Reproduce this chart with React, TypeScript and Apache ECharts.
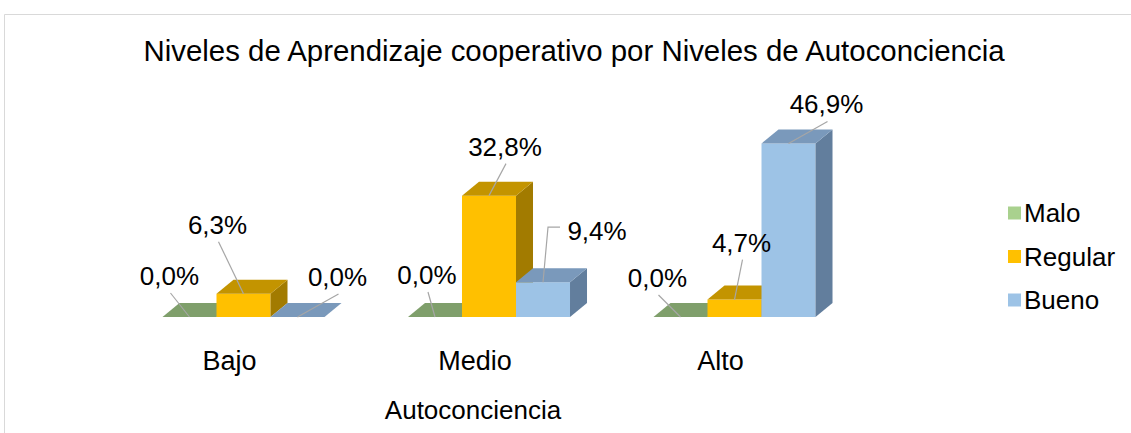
import React, { useEffect, useRef } from "react";
import * as echarts from "echarts";

const TITLE = "Niveles de Aprendizaje cooperativo por Niveles de Autoconciencia";
const AXIS_NAME = "Autoconciencia";
const CATEGORIES = ["Bajo", "Medio", "Alto"];
const SERIES_NAMES = ["Malo", "Regular", "Bueno"];
const MALO = [0.0, 0.0, 0.0];
const REGULAR = [6.3, 32.8, 4.7];
const BUENO = [0.0, 9.4, 46.9];
const SERIES_VALUES = [MALO, REGULAR, BUENO];

// styling
const FRONT = ["#A9D18E", "#FFC000", "#9DC3E6"];
const TOP = ["#7F9F6B", "#C39400", "#7A99BB"];
const SIDE = ["#6B8859", "#A27B00", "#627E9D"];
const FONT = "'Liberation Sans', Arial, sans-serif";
const TEXT_COLOR = "#000000";
const DEPTH_X = 17;
const DEPTH_Y = 14;
const BAR_RATIO = 0.22;
// label offsets [dx, dy] of the label centre from the bar's front-top centre
const LABEL_OFFSETS = [
  [[-20, -41], [-8, -42], [-23, -39]],
  [[-26, -69], [16, -49], [7, -57]],
  [[40, -40], [54, -51], [38, -39]],
];
const LABEL_ELBOW = [
  [false, false, false],
  [false, false, false],
  [false, true, false],
];

const fmt = (v: number) => v.toFixed(1).replace(".", ",") + "%";

function geom(s: number, api: any) {
  const ci = api.value(0);
  const v = api.value(1);
  const base = api.coord([ci, 0]);
  const top = api.coord([ci, v]);
  const band = api.size([1, 0])[0];
  const bw = band * BAR_RATIO;
  const x0 = base[0] - 1.5 * bw + s * bw;
  return { v, x0, x1: x0 + bw, bw, yb: base[1], yt: top[1], cx: x0 + bw / 2 };
}

export default function App() {
  const ref = useRef<HTMLDivElement>(null);
  useEffect(() => {
    if (!ref.current) return;
    const chart = echarts.init(ref.current, null, { renderer: "svg" });

    const barSeries = SERIES_VALUES.map((vals, s) => ({
      type: "custom",
      name: SERIES_NAMES[s],
      itemStyle: { color: FRONT[s] },
      clip: false,
      z: 2,
      encode: { x: 0, y: 1 },
      data: vals.map((v, i) => [i, v]),
      renderItem: (params: any, api: any) => {
        const { x0, x1, bw, yb, yt } = geom(s, api);
        const children: any[] = [];
        if (yb - yt > 0.5) {
          children.push({
            type: "rect",
            shape: { x: x0, y: yt, width: bw, height: yb - yt },
            style: { fill: FRONT[s] },
          });
          children.push({
            type: "polygon",
            shape: {
              points: [
                [x1, yt],
                [x1 + DEPTH_X, yt - DEPTH_Y],
                [x1 + DEPTH_X, yb - DEPTH_Y],
                [x1, yb],
              ],
            },
            style: { fill: SIDE[s] },
          });
        }
        children.push({
          type: "polygon",
          shape: {
            points: [
              [x0, yt],
              [x1, yt],
              [x1 + DEPTH_X, yt - DEPTH_Y],
              [x0 + DEPTH_X, yt - DEPTH_Y],
            ],
          },
          style: { fill: TOP[s] },
        });
        return { type: "group", children };
      },
    }));

    const labelSeries = SERIES_VALUES.map((vals, s) => ({
      type: "custom",
      name: SERIES_NAMES[s],
      itemStyle: { color: FRONT[s] },
      clip: false,
      z: 5,
      encode: { x: 0, y: 1 },
      data: vals.map((v, i) => [i, v]),
      renderItem: (params: any, api: any) => {
        const { v, yt, cx } = geom(s, api);
        const children: any[] = [];
        const off = LABEL_OFFSETS[s][params.dataIndex];
        const tx = cx + off[0];
        const ty = yt + off[1];
        if (LABEL_ELBOW[s][params.dataIndex]) {
          children.push({
            type: "polyline",
            shape: {
              points: [
                [cx, yt],
                [tx - 49, ty - 4],
                [tx - 37, ty - 4],
              ],
            },
            style: { stroke: "#A6A6A6", lineWidth: 1.2, fill: null },
          });
        } else {
          children.push({
            type: "line",
            shape: { x1: cx, y1: yt, x2: tx + 1, y2: ty + 17 },
            style: { stroke: "#A6A6A6", lineWidth: 1.2 },
          });
        }
        children.push({
          type: "text",
          x: tx,
          y: ty,
          style: {
            text: fmt(v),
            fill: TEXT_COLOR,
            font: `26px ${FONT}`,
            align: "center",
            verticalAlign: "middle",
          },
        });
        return { type: "group", children };
      },
    }));

    chart.setOption({
      animation: false,
      backgroundColor: "#ffffff",
      title: {
        text: TITLE,
        left: 569,
        textAlign: "center",
        top: 31,
        textStyle: {
          fontFamily: FONT,
          fontSize: 29.4,
          fontWeight: "normal",
          color: TEXT_COLOR,
        },
      },
      legend: {
        data: SERIES_NAMES,
        orient: "vertical",
        left: 1003,
        top: 195,
        icon: "rect",
        itemWidth: 13,
        itemHeight: 13,
        itemGap: 17.5,
        textStyle: { fontFamily: FONT, fontSize: 26, color: TEXT_COLOR, padding: [0, 0, 0, -2] },
      },
      grid: { left: 120.75, right: 273.75, top: 132, bottom: 116, containLabel: false },
      xAxis: {
        type: "category",
        data: CATEGORIES,
        axisLine: { show: false },
        axisTick: { show: false },
        splitLine: { show: false },
        axisLabel: {
          fontFamily: FONT,
          fontSize: 27,
          color: TEXT_COLOR,
          margin: 30,
          padding: [0, 28, 0, 0],
        },
        name: AXIS_NAME,
        nameLocation: "middle",
        nameGap: 80,
        nameTextStyle: {
          fontFamily: FONT,
          fontSize: 26,
          color: TEXT_COLOR,
          padding: [0, 32, 0, 0],
        },
      },
      yAxis: {
        type: "value",
        min: 0,
        max: 50,
        show: false,
        splitLine: { show: false },
      },
      graphic: [
        {
          type: "rect",
          shape: { x: 4.5, y: 14.5, width: 1200, height: 500 },
          style: { fill: "none", stroke: "#D9D9D9", lineWidth: 1 },
          silent: true,
        },
      ],
      series: [...barSeries, ...labelSeries],
    });
    return () => chart.dispose();
  }, []);
  return (
    <div
      ref={ref}
      style={{ position: "fixed", left: 0, top: 0, width: 1131, height: 433 }}
    />
  );
}
